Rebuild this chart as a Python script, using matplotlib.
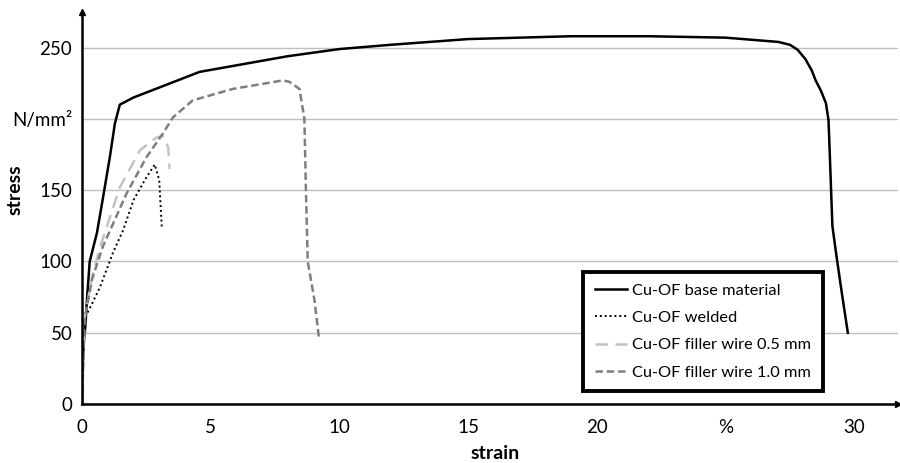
import matplotlib.pyplot as plt

plt.rcParams['font.family'] = ['Lato', 'DejaVu Sans']

# stress-strain curves (strain in %, stress in N/mm²)
base_x = [0, 0.05, 0.12, 0.2, 0.3, 0.58, 0.8, 1.08, 1.28, 1.47, 2, 3, 4.57, 8, 10, 12, 15,
          19, 22, 25, 27.05, 27.5, 27.8, 28.1, 28.35, 28.5, 28.7, 28.9, 29.0, 29.05, 29.1,
          29.15, 29.3, 29.5, 29.75]
base_y = [0, 40, 52, 75, 100, 120, 143, 173, 197, 210, 215, 222, 233, 244, 249, 252, 256,
          258, 258, 257, 254, 252, 248.5, 242, 234, 227, 220, 211, 199, 175, 150,
          125, 105, 80, 50]

weld_x = [0, 0.1, 0.3, 0.7, 1.2, 1.6, 2.0, 2.5, 2.83, 3.0, 3.1]
weld_y = [0, 60, 67, 82, 106, 122, 143, 159, 168, 157, 124]

f05_x = [0, 0.1, 0.4, 0.7, 1.47, 2.25, 2.9, 3.15, 3.35, 3.4]
f05_y = [0, 60, 90, 110, 152, 178, 187, 188, 180, 165]

f10_x = [0, 0.1, 0.4, 0.8, 1.74, 2.5, 3.15, 3.53, 4.3, 5.85, 7.8, 8.06, 8.45, 8.64, 8.7,
         8.77, 9.03, 9.2]
f10_y = [0, 60, 88, 110, 148, 173, 190, 201, 213, 221, 227, 226, 221, 200, 149,
         100, 73, 47]

xticks = [0, 5, 10, 15, 20, 25, 30]
xlabels = ['0', '5', '10', '15', '20', '%', '30']
yticks = [0, 50, 100, 150, 200, 250]
ylabels = ['0', '50', '100', '150', 'N/mm²', '250']

fig = plt.figure(figsize=(9, 4.63), dpi=100)
ax = fig.add_axes([0.0911, 0.1274, 0.9067, 0.8467])

ax.plot(base_x, base_y, color='black', lw=1.8, label='Cu-OF base material')
ax.plot(weld_x, weld_y, color='black', lw=1.4, ls=(0, (1, 1.5)), label='Cu-OF welded')
ax.plot(f05_x, f05_y, color='#c3c3c3', lw=1.8, ls=(0, (5, 3)), label='Cu-OF filler wire 0.5 mm')
ax.plot(f10_x, f10_y, color='#7f7f7f', lw=1.8, ls=(0, (3, 1.5)), label='Cu-OF filler wire 1.0 mm')

ax.set_xlim(0, 31.7)
ax.set_ylim(0, 275)
ax.set_xticks(xticks, xlabels)
ax.set_yticks(yticks, ylabels)
ax.tick_params(length=0, labelsize=13.5)
ax.tick_params(axis='y', pad=7)
ax.tick_params(axis='x', pad=11)
ax.yaxis.grid(True, color='#bfbfbf', lw=1)
ax.set_axisbelow(True)

for s in ['top', 'right']:
    ax.spines[s].set_visible(False)
for s in ['left', 'bottom']:
    ax.spines[s].set_linewidth(1.8)
ax.plot(1, 0, '>k', ms=5, transform=ax.get_yaxis_transform(), clip_on=False)
ax.plot(0, 1, '^k', ms=5, transform=ax.get_xaxis_transform(), clip_on=False)

ax.set_xlabel('strain', fontsize=14, fontweight='bold')
ax.set_ylabel('stress', fontsize=14, fontweight='bold')
ax.xaxis.set_label_coords(0.506, -0.125)
ax.yaxis.set_label_coords(-0.082, 0.546)
ax.xaxis.label.set_va('center')
ax.yaxis.label.set_va('center')

leg = ax.legend(loc='upper left', bbox_to_anchor=(0.614, 0.337),
                fontsize=11.8, handlelength=2.0, handletextpad=0.3, labelspacing=0.78,
                borderpad=0.7, borderaxespad=0, fancybox=False, framealpha=1)
leg.get_frame().set_edgecolor('black')
leg.get_frame().set_linewidth(2.8)

fig.savefig('out.png')
